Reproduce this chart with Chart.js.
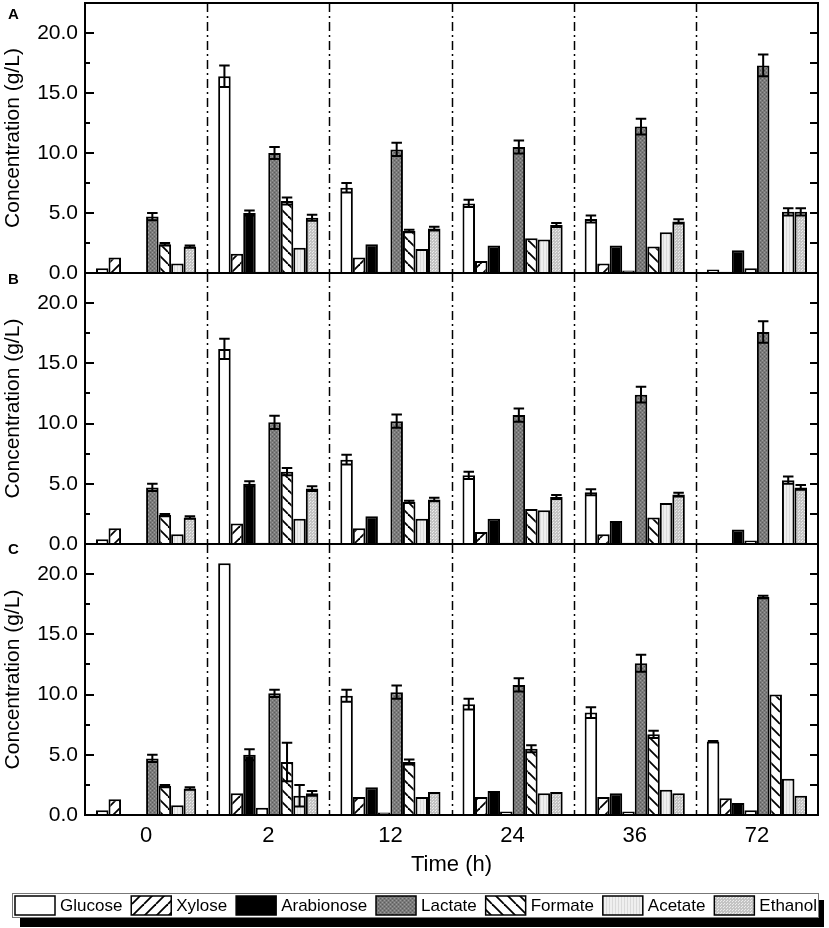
<!DOCTYPE html>
<html>
<head>
<meta charset="utf-8">
<title>Concentration over time</title>
<script src="https://cdn.jsdelivr.net/npm/chart.js@4.4.1/dist/chart.umd.min.js"></script>
<style>
  html, body { margin: 0; padding: 0; background: #fff; }
  #wrap { position: relative; width: 829px; height: 928px; overflow: hidden; font-family: "Liberation Sans", Arial, sans-serif; }
  .panel { position: absolute; left: 0; width: 829px; }
  .tag { position: absolute; left: 8px; font-weight: bold; font-size: 15px; line-height: 15px; color: #000; }
</style>
</head>
<body>
<div id="wrap">
  <div class="panel" style="top:0px;height:300px"><canvas id="chartA"></canvas></div>
  <div class="panel" style="top:250px;height:320px"><canvas id="chartB"></canvas></div>
  <div class="panel" style="top:520px;height:408px"><canvas id="chartC"></canvas></div>
  <div class="tag" style="top:6px">A</div>
  <div class="tag" style="top:271px">B</div>
  <div class="tag" style="top:541px">C</div>
</div>
<script>
// categories and series
const timeLabels = ['0', '2', '12', '24', '36', '72'];
const seriesNames = ['Glucose', 'Xylose', 'Arabionose', '', 'Lactate', 'Formate', 'Acetate', 'Ethanol'];
const yMax = 22.5;
const yStep = 2.5;

// panel A (g/L)
const aGlucose   = [0.4, 16.4, 7.1, 5.8, 4.5, 0.3];
const aXylose    = [1.3, 1.6, 1.3, 1.0, 0.8, 0.1];
const aArabinose = [0, 5.0, 2.4, 2.3, 2.3, 1.9];
const aOther     = [0.05, 0.1, 0.1, 0.1, 0.2, 0.4];
const aLactate   = [4.7, 10.0, 10.3, 10.5, 12.2, 17.3];
const aFormate   = [2.4, 6.0, 3.5, 2.9, 2.2, 0];
const aAcetate   = [0.8, 2.1, 2.0, 2.8, 3.4, 5.1];
const aEthanol   = [2.2, 4.6, 3.7, 4.0, 4.3, 5.1];
// panel A error (+/-)
const aGlucoseErr = [0, 0.9, 0.4, 0.3, 0.3, 0];
const aArabinoseErr = [0, 0.2, 0, 0, 0, 0];
const aLactateErr = [0.3, 0.5, 0.55, 0.55, 0.65, 0.9];
const aFormateErr = [0.1, 0.3, 0.1, 0, 0, 0];
const aAcetateErr = [0, 0, 0, 0, 0, 0.3];
const aEthanolErr = [0.1, 0.25, 0.15, 0.17, 0.17, 0.3];

// panel B
const bGlucose   = [0.4, 16.2, 7.0, 5.7, 4.3, 0.05];
const bXylose    = [1.3, 1.7, 1.3, 1.0, 0.8, 0.05];
const bArabinose = [0, 5.0, 2.3, 2.1, 1.9, 1.2];
const bOther     = [0.05, 0.1, 0.1, 0.1, 0.1, 0.3];
const bLactate   = [4.7, 10.1, 10.2, 10.7, 12.4, 17.6];
const bFormate   = [2.4, 6.0, 3.5, 2.9, 2.2, 0];
const bAcetate   = [0.8, 2.1, 2.1, 2.8, 3.4, 5.3];
const bEthanol   = [2.2, 4.6, 3.7, 3.9, 4.1, 4.7];
const bGlucoseErr = [0, 0.85, 0.4, 0.3, 0.25, 0];
const bArabinoseErr = [0, 0.2, 0, 0, 0, 0];
const bLactateErr = [0.3, 0.55, 0.55, 0.55, 0.65, 0.9];
const bFormateErr = [0.1, 0.3, 0.1, 0, 0, 0];
const bAcetateErr = [0, 0, 0, 0, 0, 0.3];
const bEthanolErr = [0.1, 0.2, 0.15, 0.17, 0.15, 0.2];

// panel C
const cGlucose   = [0.4, 20.9, 9.9, 9.2, 8.5, 6.1];
const cXylose    = [1.3, 1.8, 1.5, 1.5, 1.5, 1.4];
const cArabinose = [0, 5.0, 2.3, 2.0, 1.8, 1.0];
const cOther     = [0.05, 0.6, 0.2, 0.3, 0.3, 0.4];
const cLactate   = [4.7, 10.1, 10.2, 10.8, 12.6, 18.1];
const cFormate   = [2.4, 4.4, 4.4, 5.5, 6.7, 10.0];
const cAcetate   = [0.8, 1.6, 1.5, 1.8, 2.1, 3.0];
const cEthanol   = [2.2, 1.8, 1.9, 1.9, 1.8, 1.6];
const cGlucoseErr = [0, 0, 0.5, 0.45, 0.45, 0.05];
const cArabinoseErr = [0, 0.45, 0, 0, 0, 0];
const cLactateErr = [0.3, 0.3, 0.55, 0.55, 0.7, 0.1];
const cFormateErr = [0.1, 1.6, 0.2, 0.3, 0.3, 0];
const cAcetateErr = [0, 0.9, 0, 0, 0, 0];
const cEthanolErr = [0.1, 0.2, 0, 0, 0, 0];

const noErr = [0, 0, 0, 0, 0, 0];

Chart.defaults.font.family = '"Liberation Sans", Arial, sans-serif';
Chart.defaults.color = '#000';

// fill patterns
function makePattern(size, draw) {
    const c = document.createElement('canvas');
    c.width = size; c.height = size;
    const g = c.getContext('2d');
    draw(g, size);
    return g.createPattern(c, 'repeat');
}
function hatch(forward) {
    return makePattern(12, function(g, s) {
        g.fillStyle = '#fff';
        g.fillRect(0, 0, s, s);
        g.strokeStyle = '#000';
        g.lineWidth = 1.8;
        for (let k = -1; k <= 1; k++) {
            g.beginPath();
            if (forward) { g.moveTo(k * s, s); g.lineTo(k * s + s, 0); }
            else { g.moveTo(k * s, 0); g.lineTo(k * s + s, s); }
            g.stroke();
        }
    });
}
const lactateFill = makePattern(4, function(g, s) {
    g.fillStyle = '#7a7a7a'; g.fillRect(0, 0, s, s);
    g.fillStyle = '#9c9c9c'; g.fillRect(0, 0, 1, 1); g.fillRect(2, 2, 1, 1);
    g.fillStyle = '#5c5c5c'; g.fillRect(2, 0, 1, 1); g.fillRect(0, 2, 1, 1);
});
const acetateFill = makePattern(3, function(g, s) {
    g.fillStyle = '#efefef'; g.fillRect(0, 0, s, s);
    g.fillStyle = '#dadada'; g.fillRect(0, 0, 1, s);
});
const ethanolFill = makePattern(3, function(g, s) {
    g.fillStyle = '#c4c4c4'; g.fillRect(0, 0, s, s);
    g.fillStyle = '#ececec'; g.fillRect(0, 0, 1, 1); g.fillRect(1, 2, 1, 1);
});
const fills = ['#ffffff', hatch(true), '#000000', '#ffffff', lactateFill, hatch(false), acetateFill, ethanolFill];

// draws separators, frame, inward ticks, error bars
const panelDecor = {
    id: 'panelDecor',
    beforeDatasetsDraw(chart) {
        const {ctx, chartArea: area, scales: {x}} = chart;
        ctx.save();
        ctx.strokeStyle = '#000';
        ctx.lineWidth = 1.5;
        ctx.setLineDash([9, 4, 2, 4]);
        for (let i = 0; i < timeLabels.length - 1; i++) {
            const px = Math.round((x.getPixelForValue(i) + x.getPixelForValue(i + 1)) / 2) + 0.5;
            ctx.beginPath();
            ctx.moveTo(px, area.top);
            ctx.lineTo(px, area.bottom);
            ctx.stroke();
        }
        ctx.restore();
    },
    afterDatasetsDraw(chart) {
        const {ctx, scales: {y}} = chart;
        ctx.save();
        ctx.strokeStyle = '#000';
        ctx.lineWidth = 2;
        chart.data.datasets.forEach(function(ds, i) {
            const meta = chart.getDatasetMeta(i);
            meta.data.forEach(function(bar, j) {
                const e = ds.errors[j];
                if (!e) return;
                const v = ds.data[j];
                const yHi = y.getPixelForValue(v + e);
                const yLo = y.getPixelForValue(Math.max(v - e, 0));
                const hw = bar.width / 2 - 1;
                ctx.beginPath();
                ctx.moveTo(bar.x, yHi); ctx.lineTo(bar.x, yLo);
                ctx.moveTo(bar.x - hw, yHi); ctx.lineTo(bar.x + hw, yHi);
                ctx.moveTo(bar.x - hw, yLo); ctx.lineTo(bar.x + hw, yLo);
                ctx.stroke();
            });
        });
        ctx.restore();
    },
    afterDraw(chart) {
        const {ctx, chartArea: area, scales: {y}} = chart;
        ctx.save();
        ctx.strokeStyle = '#000';
        ctx.lineWidth = 2;
        for (let v = 0; v <= yMax + 0.001; v += yStep) {
            const py = Math.round(y.getPixelForValue(v));
            const major = Math.abs(v % 5) < 0.001;
            ctx.beginPath();
            ctx.moveTo(area.left, py); ctx.lineTo(area.left + (major ? 9 : 5), py);
            ctx.moveTo(area.right, py); ctx.lineTo(area.right - 8, py);
            ctx.stroke();
        }
        ctx.strokeRect(area.left, area.top, area.right - area.left, area.bottom - area.top);
        ctx.restore();
    }
};

// boxed legend with shadow under the bottom panel
const boxLegend = {
    id: 'boxLegend',
    afterDraw(chart) {
        const ctx = chart.ctx;
        const x0 = 12, x1 = 819, y0 = 373, h = 25;
        ctx.save();
        ctx.fillStyle = '#000';
        ctx.fillRect(20, 380, 804, 27);
        ctx.fillStyle = '#fff';
        ctx.fillRect(x0, y0, x1 - x0, h);
        ctx.strokeStyle = '#777';
        ctx.lineWidth = 1;
        ctx.strokeRect(x0 + 0.5, y0 + 0.5, x1 - x0 - 1, h - 1);
        ctx.font = '17px "Liberation Sans", Arial, sans-serif';
        const items = [];
        chart.data.datasets.forEach(function(ds) { if (ds.label) items.push(ds); });
        const sw = 40, gapT = 5;
        const widths = items.map(ds => ctx.measureText(ds.label).width);
        let total = 0;
        widths.forEach(w => { total += sw + gapT + w; });
        const gap = (x1 - x0 - 5 - total) / (items.length - 1);
        let px = x0 + 3;
        ctx.textBaseline = 'middle';
        items.forEach(function(ds, k) {
            ctx.fillStyle = ds.backgroundColor;
            ctx.fillRect(px, y0 + 3, sw, h - 6);
            ctx.strokeStyle = '#000';
            ctx.lineWidth = 1.5;
            ctx.strokeRect(px, y0 + 3, sw, h - 6);
            ctx.fillStyle = '#000';
            ctx.fillText(ds.label, px + sw + gapT, y0 + h / 2 + 1);
            px += sw + gapT + widths[k] + gap;
        });
        ctx.restore();
    }
};

function makePanel(canvasId, values, errors, bottom, padTop, padBottom) {
    const datasets = values.map(function(vals, i) {
        return {
            label: seriesNames[i],
            data: vals,
            errors: errors[i],
            backgroundColor: fills[i],
            borderColor: '#000',
            borderWidth: 2,
            barPercentage: 1.0,
            categoryPercentage: 0.82
        };
    });
    return new Chart(document.getElementById(canvasId), {
        type: 'bar',
        data: { labels: timeLabels, datasets: datasets },
        options: {
            responsive: true,
            maintainAspectRatio: false,
            animation: false,
            layout: { padding: { top: padTop, bottom: padBottom, left: 0, right: 11 } },
            plugins: { legend: { display: false }, tooltip: { enabled: false } },
            scales: {
                x: {
                    display: bottom,
                    grid: { display: false, drawTicks: false },
                    border: { display: false },
                    ticks: { font: { size: 22 }, padding: 8 },
                    title: { display: bottom, text: 'Time (h)', font: { size: 22 }, padding: { top: 0, bottom: 50 } },
                    afterFit: function(scale) {
                        if (bottom) scale.height = 113;
                        scale.paddingLeft = 0; scale.paddingRight = 0;
                    }
                },
                y: {
                    min: 0,
                    max: yMax,
                    grid: { display: false, drawTicks: false },
                    border: { display: false },
                    ticks: {
                        stepSize: yStep,
                        autoSkip: false,
                        padding: 7,
                        font: { size: 21 },
                        callback: function(v) { return Math.abs(v % 5) < 0.001 ? v.toFixed(1) : ''; }
                    },
                    title: { display: true, text: 'Concentration (g/L)', font: { size: 21 }, padding: { top: 1, bottom: 0 } },
                    afterFit: function(scale) {
                        scale.width = 85;
                        scale.paddingTop = 0; scale.paddingBottom = 0;
                    }
                }
            }
        },
        plugins: bottom ? [panelDecor, boxLegend] : [panelDecor]
    });
}

makePanel('chartA',
    [aGlucose, aXylose, aArabinose, aOther, aLactate, aFormate, aAcetate, aEthanol],
    [aGlucoseErr, noErr, aArabinoseErr, noErr, aLactateErr, aFormateErr, aAcetateErr, aEthanolErr],
    false, 3, 27);
makePanel('chartB',
    [bGlucose, bXylose, bArabinose, bOther, bLactate, bFormate, bAcetate, bEthanol],
    [bGlucoseErr, noErr, bArabinoseErr, noErr, bLactateErr, bFormateErr, bAcetateErr, bEthanolErr],
    false, 23, 26);
makePanel('chartC',
    [cGlucose, cXylose, cArabinose, cOther, cLactate, cFormate, cAcetate, cEthanol],
    [cGlucoseErr, noErr, cArabinoseErr, noErr, cLactateErr, cFormateErr, cAcetateErr, cEthanolErr],
    true, 24, 0);
</script>
</body>
</html>
